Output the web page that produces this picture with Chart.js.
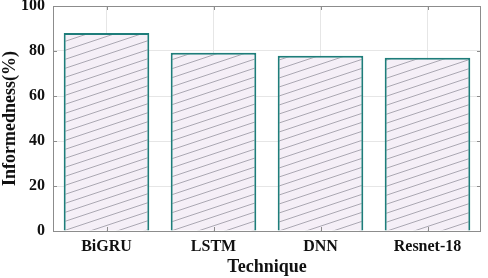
<!DOCTYPE html>
<html>
<head>
<meta charset="utf-8">
<script src="https://cdn.jsdelivr.net/npm/chart.js@4/dist/chart.umd.min.js"></script>
<style>
  html, body { margin: 0; padding: 0; background: #fff; }
  #wrap { width: 488px; height: 278px; }
</style>
</head>
<body>
<div id="wrap"><canvas id="chart" width="488" height="278"></canvas></div>
<script>
const techniques = ['BiGRU', 'LSTM', 'DNN', 'Resnet-18'];
const informedness = [88, 79.2, 77.9, 77];
const yTicks = [0, 20, 40, 60, 80, 100];

// hatch fill: light lavender with thin "/" lines
function makeHatch() {
    const tile = document.createElement('canvas');
    tile.width = 27;
    tile.height = 9;
    const c = tile.getContext('2d');
    c.fillStyle = '#f5eff7';
    c.fillRect(0, 0, 27, 9);
    c.strokeStyle = '#aaa7b2';
    c.lineWidth = 1;
    c.beginPath();
    c.moveTo(-27, 18); c.lineTo(54, -9);
    c.moveTo(-27, 9); c.lineTo(27, -9);
    c.moveTo(0, 18); c.lineTo(54, 0);
    c.stroke();
    return document.getElementById('chart').getContext('2d').createPattern(tile, 'repeat');
}

const frameBox = {
    id: 'frameBox',
    afterDraw(chart) {
        const { ctx, chartArea: a, scales } = chart;
        ctx.save();
        ctx.strokeStyle = '#8c8c8c';
        ctx.lineWidth = 1;
        ctx.strokeRect(a.left + 0.5, a.top + 0.5, a.right - a.left - 1, a.bottom - a.top);
        // inward tick marks, matlab style
        ctx.beginPath();
        yTicks.forEach(v => {
            const y = Math.round(scales.y.getPixelForValue(v)) + 0.5;
            ctx.moveTo(a.right, y); ctx.lineTo(a.right - 4, y);
            ctx.moveTo(a.left, y); ctx.lineTo(a.left + 4, y);
        });
        techniques.forEach((_, i) => {
            const x = Math.round(scales.x.getPixelForValue(i)) + 0.5;
            ctx.moveTo(x, a.bottom); ctx.lineTo(x, a.bottom - 4);
            ctx.moveTo(x, a.top); ctx.lineTo(x, a.top + 4);
        });
        ctx.stroke();
        ctx.restore();
    }
};

new Chart(document.getElementById('chart'), {
    type: 'bar',
    data: {
        labels: techniques,
        datasets: [{
            data: informedness,
            backgroundColor: makeHatch(),
            borderColor: '#1e7d7a',
            borderWidth: 2,
            categoryPercentage: 0.8,
            barPercentage: 1.0
        }]
    },
    options: {
        responsive: false,
        animation: false,
        layout: { padding: { top: 6, right: 7, left: 0, bottom: 0 } },
        plugins: { legend: { display: false }, tooltip: { enabled: false } },
        scales: {
            x: {
                grid: { offset: false, color: '#e6e6e6', drawTicks: false },
                border: { display: false },
                ticks: {
                    color: '#111',
                    padding: 6,
                    font: { family: 'Liberation Serif', weight: 'bold', size: 16 }
                },
                title: {
                    display: true,
                    text: 'Technique',
                    color: '#111',
                    padding: { top: -3, bottom: 0 },
                    font: { family: 'Liberation Serif', weight: 'bold', size: 18 }
                },
                afterFit: s => { s.height = 47; s.paddingLeft = 0; s.paddingRight = 0; }
            },
            y: {
                min: 0,
                max: 100,
                grid: { color: '#e6e6e6', drawTicks: false },
                border: { display: false },
                ticks: {
                    stepSize: 20,
                    color: '#111',
                    padding: 8,
                    font: { family: 'Liberation Serif', weight: 'bold', size: 16 }
                },
                title: {
                    display: true,
                    text: 'Informedness(%)',
                    color: '#111',
                    padding: { top: 0, bottom: 2 },
                    font: { family: 'Liberation Serif', weight: 'bold', size: 18 }
                },
                afterFit: s => { s.width = 53; s.paddingTop = 0; s.paddingBottom = 0; }
            }
        }
    },
    plugins: [frameBox]
});
</script>
</body>
</html>
